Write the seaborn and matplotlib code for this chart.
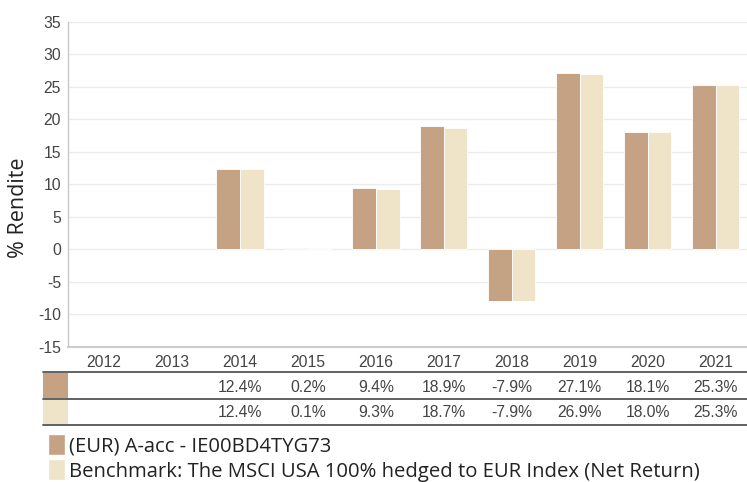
import matplotlib
matplotlib.use("Agg")
import matplotlib.pyplot as plt
from matplotlib.patches import Patch, Rectangle
from matplotlib.transforms import blended_transform_factory
import numpy as np
import pandas as pd
import seaborn as sns

# chart data
years = ['2012', '2013', '2014', '2015', '2016', '2017', '2018', '2019', '2020', '2021']
fund = [np.nan, np.nan, 12.4, 0.2, 9.4, 18.9, -7.9, 27.1, 18.1, 25.3]
bench = [np.nan, np.nan, 12.4, 0.1, 9.3, 18.7, -7.9, 26.9, 18.0, 25.3]
fund_name = '(EUR) A-acc - IE00BD4TYG73'
bench_name = 'Benchmark: The MSCI USA 100% hedged to EUR Index (Net Return)'
y_ticks = list(range(-15, 40, 5))

FUND_COLOR = '#c4a283'
BENCH_COLOR = '#efe3c8'
TEXT_COLOR = '#444444'
W, H = 747, 482

df = pd.DataFrame({
    'year': years * 2,
    'value': fund + bench,
    'series': [fund_name] * len(years) + [bench_name] * len(years),
})

sns.set_theme(style='white')
plt.rcParams['font.family'] = ['Liberation Sans', 'DejaVu Sans']
plt.rcParams['axes.unicode_minus'] = False

fig = plt.figure(figsize=(W / 100, H / 100), dpi=100)


def fx(px):
    return px / W


def fy(px):
    return 1 - px / H


ax = fig.add_axes([fx(68), fy(346.7), fx(747 - 68), (346.7 - 21.7) / H])

sns.barplot(data=df, x='year', y='value', hue='series', order=years,
            hue_order=[fund_name, bench_name], palette=[FUND_COLOR, BENCH_COLOR],
            saturation=1, width=0.695, errorbar=None, edgecolor='white',
            linewidth=0.6, legend=False, ax=ax)

ax.set_ylim(-15, 35)
ax.set_xlim(-0.53, 9.46)
ax.set_yticks(y_ticks)
ax.tick_params(axis='y', length=0, pad=5, labelsize=11.3, labelcolor=TEXT_COLOR)
ax.tick_params(axis='x', length=0, pad=6, labelsize=11.3, labelcolor=TEXT_COLOR)
ax.set_xlabel('')
ax.set_ylabel('% Rendite', fontsize=15.5, color='#222222',
              family=['Open Sans', 'DejaVu Sans'])
ax.yaxis.set_label_coords(-0.057, 0.427)
ax.grid(axis='y', color='#ebebeb', linewidth=1)
ax.set_axisbelow(True)
for side in ['top', 'right']:
    ax.spines[side].set_visible(False)
ax.spines['left'].set_color('#c8c8c8')
ax.spines['left'].set_linewidth(1)
ax.spines['bottom'].set_color('#cccccc')
ax.spines['bottom'].set_linewidth(1.5)

# table below the chart
tr = blended_transform_factory(ax.transData, fig.transFigure)
for y_line in [372.3, 399, 425]:
    fig.add_artist(plt.Line2D([fx(43), 1], [fy(y_line), fy(y_line)], color='#555555',
                              linewidth=1.3, transform=fig.transFigure))
fig.add_artist(Rectangle((fx(43), fy(398.2)), fx(25), (398.2 - 373.2) / H,
                         facecolor=FUND_COLOR, edgecolor='none', transform=fig.transFigure))
fig.add_artist(Rectangle((fx(43), fy(424.2)), fx(25), (424.2 - 400) / H,
                         facecolor=BENCH_COLOR, edgecolor='none', transform=fig.transFigure))

for i, (a, b) in enumerate(zip(fund, bench)):
    if not np.isnan(a):
        ax.text(i, fy(387.7), f'{a:.1f}%', transform=tr, ha='center', va='center',
                fontsize=11.3, color=TEXT_COLOR)
    if not np.isnan(b):
        ax.text(i, fy(412.7), f'{b:.1f}%', transform=tr, ha='center', va='center',
                fontsize=11.3, color=TEXT_COLOR)

handles = [Patch(facecolor=FUND_COLOR, label=fund_name),
           Patch(facecolor=BENCH_COLOR, label=bench_name)]
fig.legend(handles=handles, loc='upper left', bbox_to_anchor=(fx(48), fy(434)),
           frameon=False, borderpad=0, borderaxespad=0, handlelength=0.85,
           handleheight=1.25, handletextpad=0.2, labelspacing=0.12,
           prop={'family': ['Open Sans', 'DejaVu Sans'], 'size': 14.6},
           labelcolor='#222222')

fig.savefig('out.png', dpi=100)
